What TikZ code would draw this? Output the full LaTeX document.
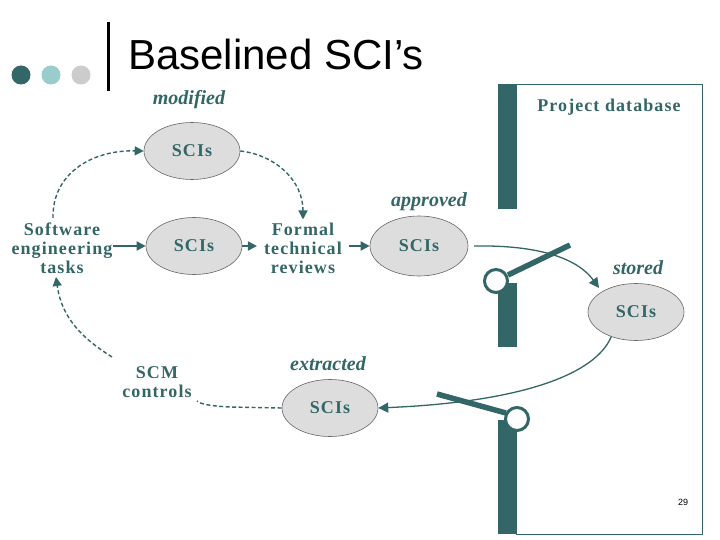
\documentclass[tikz,border=0pt]{standalone}
\usepackage{fontspec}
\setmainfont{Liberation Serif}
\newfontfamily\titlefont{Liberation Sans}
\newfontfamily\nodefont[LetterSpace=6]{Liberation Serif}
\usetikzlibrary{arrows.meta,shapes.geometric}
\definecolor{teal1}{HTML}{336666}
\definecolor{tealL}{HTML}{99CCCC}
\definecolor{grayD}{HTML}{CCCCCC}
\definecolor{ellfill}{HTML}{DDDDDD}
\tikzset{
  sci/.style={ellipse, draw=gray!80!black, line width=0.6pt, fill=ellfill,
    minimum width=96pt, minimum height=57pt, inner sep=0pt,
    font=\nodefont\bfseries\fontsize{18}{19}\selectfont, text=teal1},
  txt/.style={align=center, font=\nodefont\bfseries\fontsize{18}{19}\selectfont, text=teal1, inner sep=0pt},
  lbl/.style={font=\bfseries\itshape\fontsize{20}{22}\selectfont, text=teal1, inner sep=0pt},
  flow/.style={draw=teal1, line width=1.6pt, -{Triangle[length=9pt,width=9pt]}},
  dflow/.style={draw=teal1, line width=1.4pt, dash pattern=on 4pt off 2.5pt, -{Triangle[length=9pt,width=9pt]}},
  curv/.style={draw=teal1, line width=1.3pt, -{Triangle[length=10pt,width=10pt]}},
  gatebar/.style={draw=teal1, line width=5.5pt},
  gatering/.style={draw=teal1, line width=3pt, fill=white},
}
\begin{document}
\begin{tikzpicture}[x=1pt,y=-1pt]
\useasboundingbox (0,0) rectangle (720,540);
\fill[white] (0,0) rectangle (720,540);
% title decoration
\fill[teal1] (21,75) circle (9.5);
\fill[tealL] (51,75) circle (9.5);
\fill[grayD] (81,75) circle (9.5);
\draw[black, line width=3pt] (108,22) -- (108,91);
\node[anchor=base west, font=\titlefont\fontsize{42}{48}\selectfont, inner sep=0pt] (title) at (128,70) {Baselined SCI’s};
% project database
\draw[teal1, line width=0.8pt] (516,84.5) -- (702.5,84.5) -- (702.5,534) -- (516,534);
\fill[teal1] (498,84) rectangle (517,209);
\fill[teal1] (498,283) rectangle (517,347);
\fill[teal1] (498,420) rectangle (517,534);
\node[txt] (pdb) at (609,107) {Project database};
% nodes
\node[txt] (set) at (62,248) {Software\\engineering\\tasks};
\node[sci] (s1) at (192,151) {SCIs};
\node[lbl] (mod) at (189,100) {modified};
\node[sci] (s2) at (194,246) {SCIs};
\node[txt] (ftr) at (303,248) {Formal\\technical\\reviews};
\node[sci, minimum width=98pt, minimum height=60pt] (s3) at (419,246) {SCIs};
\node[lbl] (appr) at (429,202) {approved};
\node[sci] (s4) at (636,312) {SCIs};
\node[lbl] (stor) at (638,268) {stored};
\node[sci] (s5) at (330,408) {SCIs};
\node[lbl] (extr) at (328,364) {extracted};
\node[txt] (scm) at (157,382) {SCM\\controls};
\node[font=\titlefont\fontsize{9}{10}\selectfont, inner sep=0pt] (pg) at (683,502) {29};
% straight flows
\draw[flow] (set.east |- s2) -- (s2.west);
\draw[flow] (s2.east) -- ([xshift=-7pt]ftr.west |- s2);
\draw[flow] ([xshift=7pt]ftr.east |- s3) -- (s3.west);
% dashed flows
\draw[dflow] (53,218) .. controls (52,175) and (90,150) .. (s1.west);
\draw[dflow] (s1.east) .. controls (275,155) and (303,180) .. ([yshift=3pt]ftr.north);
\draw[dflow] (112,357) .. controls (85,340) and (62,320) .. (56,277);
\draw[dflow, -] (s5.west) -- (230,407) .. controls (210,406) and (200,404) .. (197,401);
% gates
\draw[gatebar] (508,275) -- (570,245);
\draw[gatering] (496,281) circle (11.5);
\draw[gatebar] (506,413) -- (437,394);
\draw[gatering] (517,419) circle (11.5);
% curved flows
\draw[curv] (474,246) .. controls (530,245) and (575,255) .. (599,288);
\draw[curv] (s4.225) .. controls (595,375) and (520,402) .. (s5.east);
\end{tikzpicture}
\end{document}
